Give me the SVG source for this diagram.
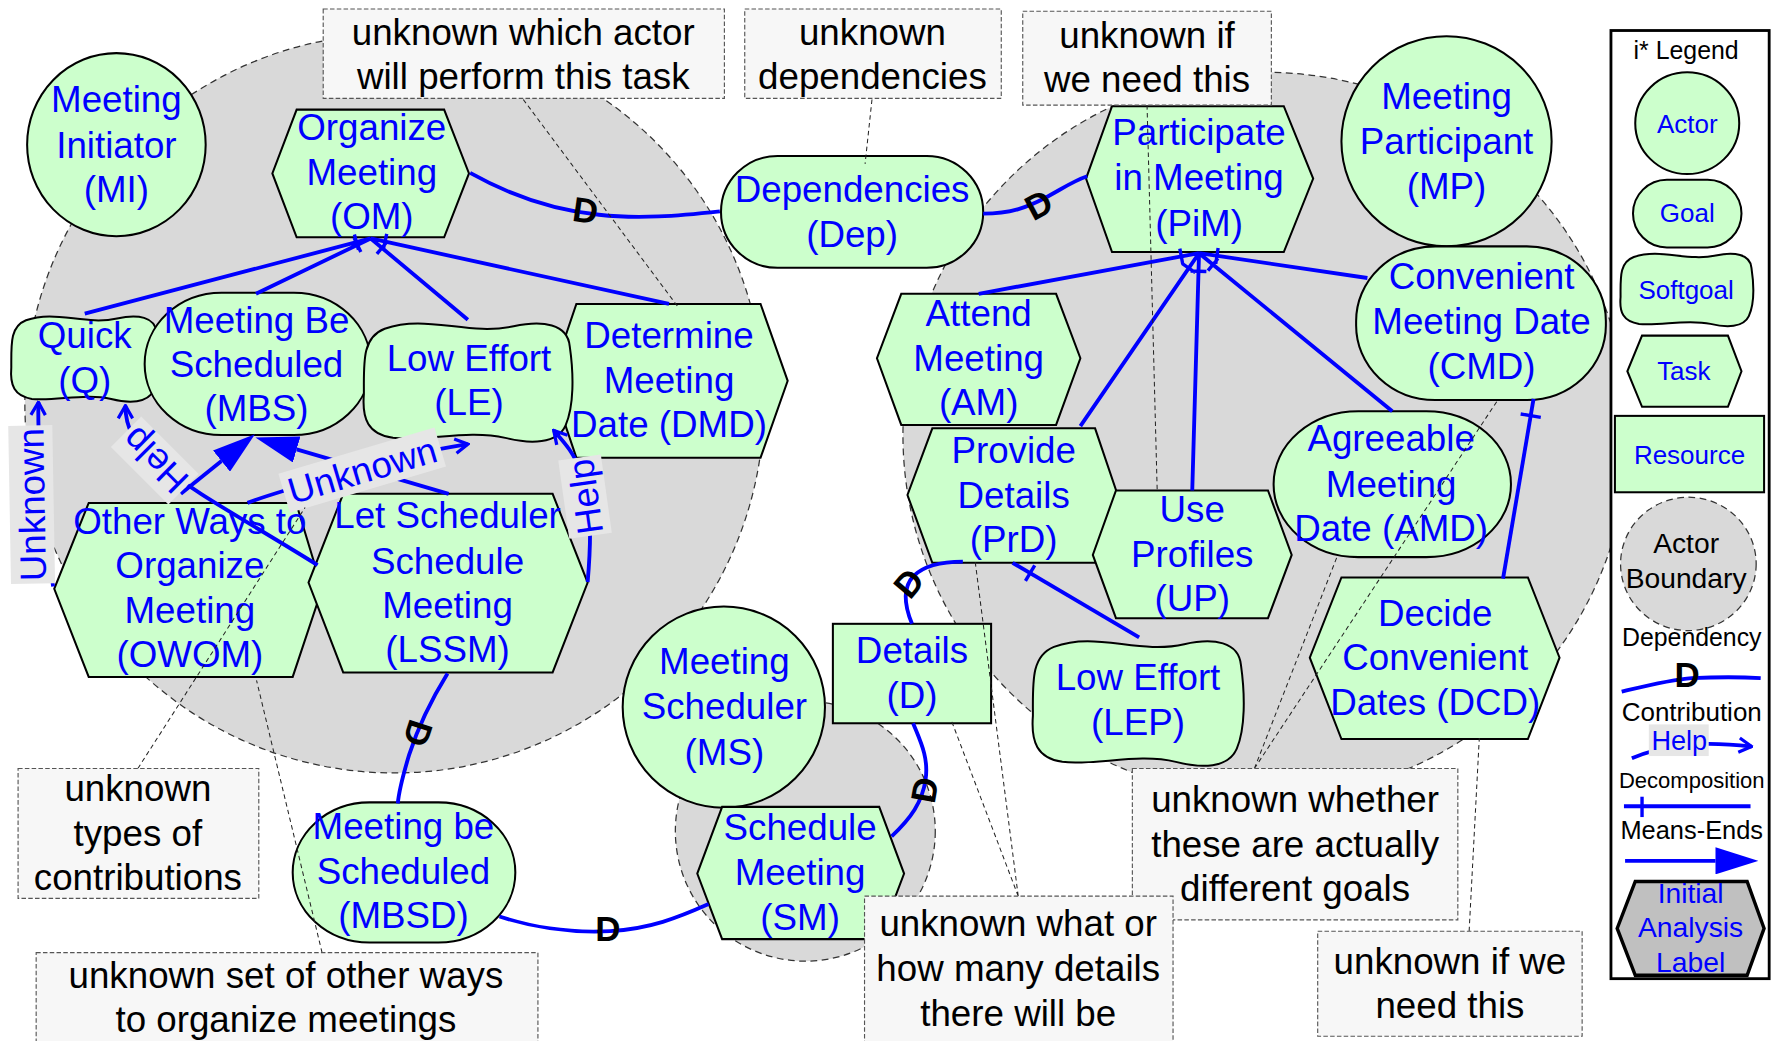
<svg xmlns="http://www.w3.org/2000/svg" xmlns:xlink="http://www.w3.org/1999/xlink" width="1772" height="1041" viewBox="0 0 1772 1041">
  <style>
    .bnd { fill:#d9d9d9; stroke:#333; stroke-width:1.1; stroke-dasharray:6 4; }
    .shape { fill:#ccffcc; stroke:#000; stroke-width:1.8; }
    .lnk { fill:none; stroke:#0000ff; stroke-width:3.4; }
    .tick { fill:none; stroke:#0000ff; stroke-width:3; }
    .call { fill:none; stroke:#222; stroke-width:0.9; stroke-dasharray:4 3; }
    .note { fill:#f7f7f7; stroke:#555; stroke-width:1; stroke-dasharray:4 2; }
    .lbg { fill:#e6e6e6; }
    .nt { font-family:"Liberation Sans", Arial, sans-serif; font-size:32.5px; fill:#0000ff; text-anchor:middle; }
    .at { font-family:"Liberation Sans", Arial, sans-serif; font-size:32.5px; fill:#000; text-anchor:middle; }
    .dm { font-family:"Liberation Sans", Arial, sans-serif; font-size:31px; font-weight:bold; fill:#000; text-anchor:middle; }
    .lg { font-family:"Liberation Sans", Arial, sans-serif; fill:#000; text-anchor:middle; }
    .lgb { font-family:"Liberation Sans", Arial, sans-serif; fill:#0000ff; text-anchor:middle; }
  </style>
  <defs>
    <symbol id="softgoal" viewBox="0 0 100 100" preserveAspectRatio="none" overflow="visible">
      <path d="M10,8 C30,-4 50,14 72,6 C86,1 98,4 99,22 C101,45 101,70 97,85 C93,100 80,100 68,95 C50,88 30,98 14,95 C2,92 -1,80 0,60 C0,35 -1,15 10,8 Z" fill="#ccffcc" stroke="#000" stroke-width="2" vector-effect="non-scaling-stroke"/>
    </symbol>
    <marker id="open" viewBox="0 0 20 20" refX="18" refY="10" markerWidth="16" markerHeight="16" markerUnits="userSpaceOnUse" orient="auto">
      <path d="M4,2 L18,10 L4,18" fill="none" stroke="#0000ff" stroke-width="3.6"/>
    </marker>
    <marker id="meansend" viewBox="0 0 38 24" refX="0" refY="12" markerWidth="38" markerHeight="24" markerUnits="userSpaceOnUse" orient="auto">
      <path d="M0,0 L38,12 L0,24 Z" fill="#0000ff"/>
    </marker>
  </defs>

  <g transform="scale(1.1301)">
    <!-- actor boundaries -->
    <g id="boundaries">
      <circle id="bnd-MI" class="bnd" cx="349" cy="357" r="327"/>
      <circle id="bnd-MP" class="bnd" cx="1120" cy="385" r="321"/>
      <circle id="bnd-MS" class="bnd" cx="712.6" cy="735.5" r="115"/>
    </g>

    <!-- intentional elements -->
    <g id="nodes">
      <g id="MI">
        <ellipse class="shape" cx="103" cy="128" rx="79" ry="81"/>
        <text class="nt"><tspan x="103" y="99.5">Meeting</tspan><tspan x="103" y="139.5">Initiator</tspan><tspan x="103" y="178.5">(MI)</tspan></text>
      </g>
      <g id="OM">
        <polygon class="shape" points="262.5,97 393,97 415,153.5 393,210 262.5,210 241,153.5"/>
        <text class="nt"><tspan x="329" y="123.5">Organize</tspan><tspan x="329" y="163.5">Meeting</tspan><tspan x="329" y="202.5">(OM)</tspan></text>
      </g>
      <g id="Dep">
        <rect class="shape" x="638" y="138" width="232" height="99" rx="50" ry="50"/>
        <text class="nt"><tspan x="754" y="178.5">Dependencies</tspan><tspan x="754" y="218.5">(Dep)</tspan></text>
      </g>
      <g id="PiM">
        <polygon class="shape" points="984,94 1136,94 1162,158 1136,223 984,223 961,158"/>
        <text class="nt"><tspan x="1061" y="128.5">Participate</tspan><tspan x="1061" y="168.5">in Meeting</tspan><tspan x="1061" y="208.5">(PiM)</tspan></text>
      </g>
      <g id="MP">
        <ellipse class="shape" cx="1280" cy="125" rx="93" ry="93"/>
        <text class="nt"><tspan x="1280" y="96.5">Meeting</tspan><tspan x="1280" y="136.5">Participant</tspan><tspan x="1280" y="176.5">(MP)</tspan></text>
      </g>
      <g id="Q">
        <use href="#softgoal" x="10" y="277" width="130" height="80"/>
        <text class="nt"><tspan x="75" y="307.5">Quick</tspan><tspan x="75" y="347.5">(Q)</tspan></text>
      </g>
      <g id="MBS">
        <rect class="shape" x="128" y="259" width="200" height="126" rx="68" ry="63"/>
        <text class="nt"><tspan x="227" y="294.5">Meeting Be</tspan><tspan x="227" y="333.5">Scheduled</tspan><tspan x="227" y="372.5">(MBS)</tspan></text>
      </g>
      <g id="DMD">
        <polygon class="shape" points="510,269 673,269 697,337 673,405 510,405 487,337"/>
        <text class="nt"><tspan x="592" y="307.5">Determine</tspan><tspan x="592" y="347.5">Meeting</tspan><tspan x="592" y="386.5">Date (DMD)</tspan></text>
      </g>
      <g id="LE">
        <use href="#softgoal" x="322" y="282" width="184" height="111"/>
        <text class="nt"><tspan x="415" y="328.5">Low Effort</tspan><tspan x="415" y="367.5">(LE)</tspan></text>
      </g>
      <g id="AM">
        <polygon class="shape" points="797.5,260 934.5,260 956,317 934.5,376 797.5,376 776,317"/>
        <text class="nt"><tspan x="866" y="288.5">Attend</tspan><tspan x="866" y="328.5">Meeting</tspan><tspan x="866" y="367.5">(AM)</tspan></text>
      </g>
      <g id="CMD">
        <rect class="shape" x="1200" y="218" width="221" height="136" rx="70" ry="66"/>
        <text class="nt"><tspan x="1311" y="255.5">Convenient</tspan><tspan x="1311" y="295.5">Meeting Date</tspan><tspan x="1311" y="335.5">(CMD)</tspan></text>
      </g>
      <g id="AMD">
        <rect class="shape" x="1127" y="364" width="210" height="129" rx="75" ry="64"/>
        <text class="nt"><tspan x="1231" y="399.5">Agreeable</tspan><tspan x="1231" y="439.5">Meeting</tspan><tspan x="1231" y="478.5">Date (AMD)</tspan></text>
      </g>
      <g id="PrD">
        <polygon class="shape" points="825,379 969,379 989,438 969,498 825,498 803,438"/>
        <text class="nt"><tspan x="897" y="409.5">Provide</tspan><tspan x="897" y="449.5">Details</tspan><tspan x="897" y="488.5">(PrD)</tspan></text>
      </g>
      <g id="UP">
        <polygon class="shape" points="987.5,434 1122,434 1143,491 1122,547 987.5,547 967,491"/>
        <text class="nt"><tspan x="1055" y="461.5">Use</tspan><tspan x="1055" y="501.5">Profiles</tspan><tspan x="1055" y="540.5">(UP)</tspan></text>
      </g>
      <g id="OWOM">
        <polygon class="shape" points="78.5,445 262,445 285,521 259,599 78.5,599 48,521"/>
        <text class="nt"><tspan x="168" y="472.5">Other Ways to</tspan><tspan x="168" y="511.5">Organize</tspan><tspan x="168" y="551.5">Meeting</tspan><tspan x="168" y="590.5">(OWOM)</tspan></text>
      </g>
      <g id="LSSM">
        <polygon class="shape" points="303.7,437 489,437 520,515.5 489,595 303.7,595 273,515.5"/>
        <text class="nt"><tspan x="396" y="467.5">Let Scheduler</tspan><tspan x="396" y="507.5">Schedule</tspan><tspan x="396" y="546.5">Meeting</tspan><tspan x="396" y="585.5">(LSSM)</tspan></text>
      </g>
      <g id="MS">
        <ellipse class="shape" cx="640.5" cy="625.7" rx="89.5" ry="89"/>
        <text class="nt"><tspan x="641" y="596.5">Meeting</tspan><tspan x="641" y="636.5">Scheduler</tspan><tspan x="641" y="676.5">(MS)</tspan></text>
      </g>
      <g id="D">
        <rect class="shape" x="737" y="552" width="140" height="88"/>
        <text class="nt"><tspan x="807" y="586.5">Details</tspan><tspan x="807" y="626.5">(D)</tspan></text>
      </g>
      <g id="LEP">
        <use href="#softgoal" x="914" y="563" width="186" height="117"/>
        <text class="nt"><tspan x="1007" y="610.5">Low Effort</tspan><tspan x="1007" y="650.5">(LEP)</tspan></text>
      </g>
      <g id="DCD">
        <polygon class="shape" points="1187,511 1352,511 1380,582 1352,654 1187,654 1159,582"/>
        <text class="nt"><tspan x="1270" y="553.5">Decide</tspan><tspan x="1270" y="592.5">Convenient</tspan><tspan x="1270" y="632.5">Dates (DCD)</tspan></text>
      </g>
      <g id="SM">
        <polygon class="shape" points="639,714 778,714 800,773 778,831 639,831 617,773"/>
        <text class="nt"><tspan x="708" y="743.5">Schedule</tspan><tspan x="708" y="783.5">Meeting</tspan><tspan x="708" y="822.5">(SM)</tspan></text>
      </g>
      <g id="MBSD">
        <rect class="shape" x="259" y="710" width="197" height="124" rx="68" ry="62"/>
        <text class="nt"><tspan x="357" y="742.5">Meeting be</tspan><tspan x="357" y="782.5">Scheduled</tspan><tspan x="357" y="821.5">(MBSD)</tspan></text>
      </g>
    </g>

    <!-- links between elements -->
    <g id="connectors">
      <!-- decomposition of Organize Meeting -->
      <path class="lnk" d="M328,211 L75,277.5 M328,211 L226.5,260 M328,211 L414,283 M328,211 L592,269"/>
      <path class="tick" d="M313.6,207.5 L317.2,221.1 M313.3,210.3 L319.3,223 M333.5,224.7 L342.5,213.9 M339.2,220.6 L342.2,207"/>
      <!-- decomposition of Participate in Meeting -->
      <path class="lnk" d="M1061,224 L866,260 M1061,224 L956,377 M1061,224 L1055,434 M1061,224 L1232,364 M1061,224 L1210,246"/>
      <path class="tick" d="M1044,220 L1046.6,233.8 M1046.2,233.2 L1057.7,241.2 M1053.5,239.8 L1067.5,240.2 M1068.9,239.5 L1077.8,228.7 M1075.8,233.3 L1077.9,219.4"/>
      <!-- Decide Convenient Dates to Convenient Meeting Date -->
      <path class="lnk" d="M1330,512 L1357,353"/>
      <path class="tick" d="M1345.6,366.3 L1363.4,369.3"/>
      <!-- Low Effort (LEP) to Provide Details -->
      <path class="lnk" d="M1008,564 L896,498"/>
      <path class="tick" d="M907.4,514 L915.6,500.2"/>

      <!-- means-ends into Meeting Be Scheduled -->
      <path class="lnk" d="M397,437 L262.5,397.7" marker-end="url(#meansend)"/>
      <path class="lnk" d="M160,437 L196,408" marker-end="url(#meansend)"/>

      <!-- contributions -->
      <path class="lnk" d="M281,500 C220,462 170,435 140,410 C118,392 111,378 111,359" marker-end="url(#open)"/>
      <path class="lnk" d="M47,519 C40,470 33,400 34,356" marker-end="url(#open)"/>
      <path class="lnk" d="M219,445 C250,433 300,421 335,410 C365,401 390,397 414,393" marker-end="url(#open)"/>
      <path class="lnk" d="M520,515 C523,480 524,445 515,420 C508,400 498,390 490,381" marker-end="url(#open)"/>

      <g id="lbl-help-q" transform="translate(137,407.5) rotate(-135)">
        <rect class="lbg" x="-36" y="-19" width="72" height="38"/>
        <text class="nt" y="11.5">Help</text>
      </g>
      <g id="lbl-unknown-q" transform="translate(28,446.5) rotate(-91)">
        <rect class="lbg" x="-70" y="-19.5" width="140" height="39"/>
        <text class="nt" y="11.5">Unknown</text>
      </g>
      <g id="lbl-unknown-le" transform="translate(320.5,416) rotate(-16.5)">
        <rect class="lbg" x="-72" y="-18" width="144" height="36"/>
        <text class="nt" y="11.5">Unknown</text>
      </g>
      <g id="lbl-help-le" transform="translate(517.7,439.5) rotate(-98)">
        <rect class="lbg" x="-35" y="-19" width="70" height="38"/>
        <text class="nt" y="11.5">Help</text>
      </g>

      <!-- dependencies -->
      <path class="lnk" d="M416,153 C450,172 490,186 530,190 C565,194 600,191 637,187"/>
      <path class="lnk" d="M870,189 C895,189 910,183 925,175 C940,167 950,160 962,156"/>
      <path class="lnk" d="M396,596 C383,617 371,640 362,668 C356,688 353,700 352,711"/>
      <path class="lnk" d="M442,811 C470,820 500,826 540,824 C575,822 600,812 627,800"/>
      <path class="lnk" d="M789,740 C806,724 816,710 819,690 C822,670 814,655 808,640"/>
      <path class="lnk" d="M807,552 C800,535 799,520 808,510 C818,500 835,497 852,497"/>
      <text class="dm" transform="translate(518,186) rotate(8)" y="11">D</text>
      <text class="dm" transform="translate(919,181) rotate(-28)" y="11">D</text>
      <text class="dm" transform="translate(370,649) rotate(108)" y="11">D</text>
      <text class="dm" transform="translate(538,822)" y="11">D</text>
      <text class="dm" transform="translate(818,699) rotate(-80)" y="11">D</text>
      <text class="dm" transform="translate(804,516) rotate(-50)" y="11">D</text>
    </g>

    <!-- annotations -->
    <g id="annotations">
      <path class="call" d="M463,88 L601,273 M771.6,88 L765.5,145 M1015,93 L1024,435 M122,680 L270,449 M285,843 L227,602 M901,793 L842,638 M901,793 L862.8,496 M1110,680 L1183,493 M1110,680 L1326,353 M1300,824 L1309,653"/>
      <g id="note-actor">
        <rect class="note" x="286" y="8" width="355" height="79"/>
        <text class="at"><tspan x="463" y="39.5">unknown which actor</tspan><tspan x="463" y="78.5">will perform this task</tspan></text>
      </g>
      <g id="note-deps">
        <rect class="note" x="659" y="8" width="227" height="79"/>
        <text class="at"><tspan x="772" y="39.5">unknown</tspan><tspan x="772" y="78.5">dependencies</tspan></text>
      </g>
      <g id="note-need">
        <rect class="note" x="905" y="10" width="220" height="83"/>
        <text class="at"><tspan x="1015" y="42.5">unknown if</tspan><tspan x="1015" y="81.5">we need this</tspan></text>
      </g>
      <g id="note-types">
        <rect class="note" x="16" y="680" width="213" height="115"/>
        <text class="at"><tspan x="122" y="708.5">unknown</tspan><tspan x="122" y="748.5">types of</tspan><tspan x="122" y="787.5">contributions</tspan></text>
      </g>
      <g id="note-ways">
        <rect class="note" x="32" y="843" width="444" height="85"/>
        <text class="at"><tspan x="253" y="874.5">unknown set of other ways</tspan><tspan x="253" y="913.5">to organize meetings</tspan></text>
      </g>
      <g id="note-goals">
        <rect class="note" x="1002" y="680" width="288" height="134"/>
        <text class="at"><tspan x="1146" y="718.5">unknown whether</tspan><tspan x="1146" y="758.5">these are actually</tspan><tspan x="1146" y="797.5">different goals</tspan></text>
      </g>
      <g id="note-details">
        <rect class="note" x="765" y="793" width="273" height="135"/>
        <text class="at"><tspan x="901" y="828.5">unknown what or</tspan><tspan x="901" y="868.5">how many details</tspan><tspan x="901" y="907.5">there will be</tspan></text>
      </g>
      <g id="note-need2">
        <rect class="note" x="1166" y="824" width="234" height="93"/>
        <text class="at"><tspan x="1283" y="861.5">unknown if we</tspan><tspan x="1283" y="900.5">need this</tspan></text>
      </g>
    </g>

    <!-- legend -->
    <g id="legend">
      <rect x="1425.5" y="27" width="140" height="839" fill="#fff" stroke="#000" stroke-width="2.5"/>
      <text class="lg" x="1492" y="52" font-size="22">i* Legend</text>
      <ellipse class="shape" cx="1493" cy="109" rx="46" ry="45"/>
      <text class="lgb" x="1493" y="117.3" font-size="23">Actor</text>
      <rect class="shape" x="1445" y="159" width="96" height="60" rx="30" ry="30"/>
      <text class="lgb" x="1493" y="196.8" font-size="23">Goal</text>
      <use href="#softgoal" x="1434" y="222" width="117" height="68"/>
      <text class="lgb" x="1492" y="264.3" font-size="23">Softgoal</text>
      <polygon class="shape" points="1453,297 1529,297 1541,328.5 1529,360 1453,360 1440,328.5"/>
      <text class="lgb" x="1490" y="336.3" font-size="23">Task</text>
      <rect class="shape" x="1429" y="368" width="132" height="67.6"/>
      <text class="lgb" x="1495" y="410.3" font-size="23">Resource</text>
      <ellipse class="bnd" cx="1494" cy="499" rx="60" ry="59"/>
      <text class="lg" font-size="25"><tspan x="1492" y="489">Actor</tspan><tspan x="1492" y="520">Boundary</tspan></text>
      <text class="lg" x="1497" y="572" font-size="22">Dependency</text>
      <path class="lnk" d="M1435,612 C1460,606 1480,601 1497,600 C1520,599 1540,599 1558,600" stroke-width="3"/>
      <text class="dm" x="1493" y="608" font-size="19">D</text>
      <text class="lg" x="1497" y="638" font-size="23">Contribution</text>
      <path class="lnk" d="M1444,671 C1470,660 1500,655 1550,660.6" stroke-width="3" marker-end="url(#open)"/>
      <rect class="lbg" x="1459" y="641" width="53" height="28"/>
      <text class="lgb" x="1486" y="664" font-size="24">Help</text>
      <text class="lg" x="1497" y="697" font-size="19.5">Decomposition</text>
      <path class="lnk" d="M1437,713.4 L1549,713.4" stroke-width="3"/>
      <path class="tick" d="M1453,705 L1453,723"/>
      <text class="lg" x="1497" y="742" font-size="22.5">Means-Ends</text>
      <path class="lnk" d="M1438,761.7 L1518,761.7" stroke-width="3" marker-end="url(#meansend)"/>
      <polygon points="1447,780 1546,780 1561,821.5 1546,863 1447,863 1431,821.5" fill="#c0c0c0" stroke="#000" stroke-width="3"/>
      <text class="lgb" font-size="25"><tspan x="1496" y="799">Initial</tspan><tspan x="1496" y="829">Analysis</tspan><tspan x="1496" y="860">Label</tspan></text>
    </g>
  </g>
</svg>
